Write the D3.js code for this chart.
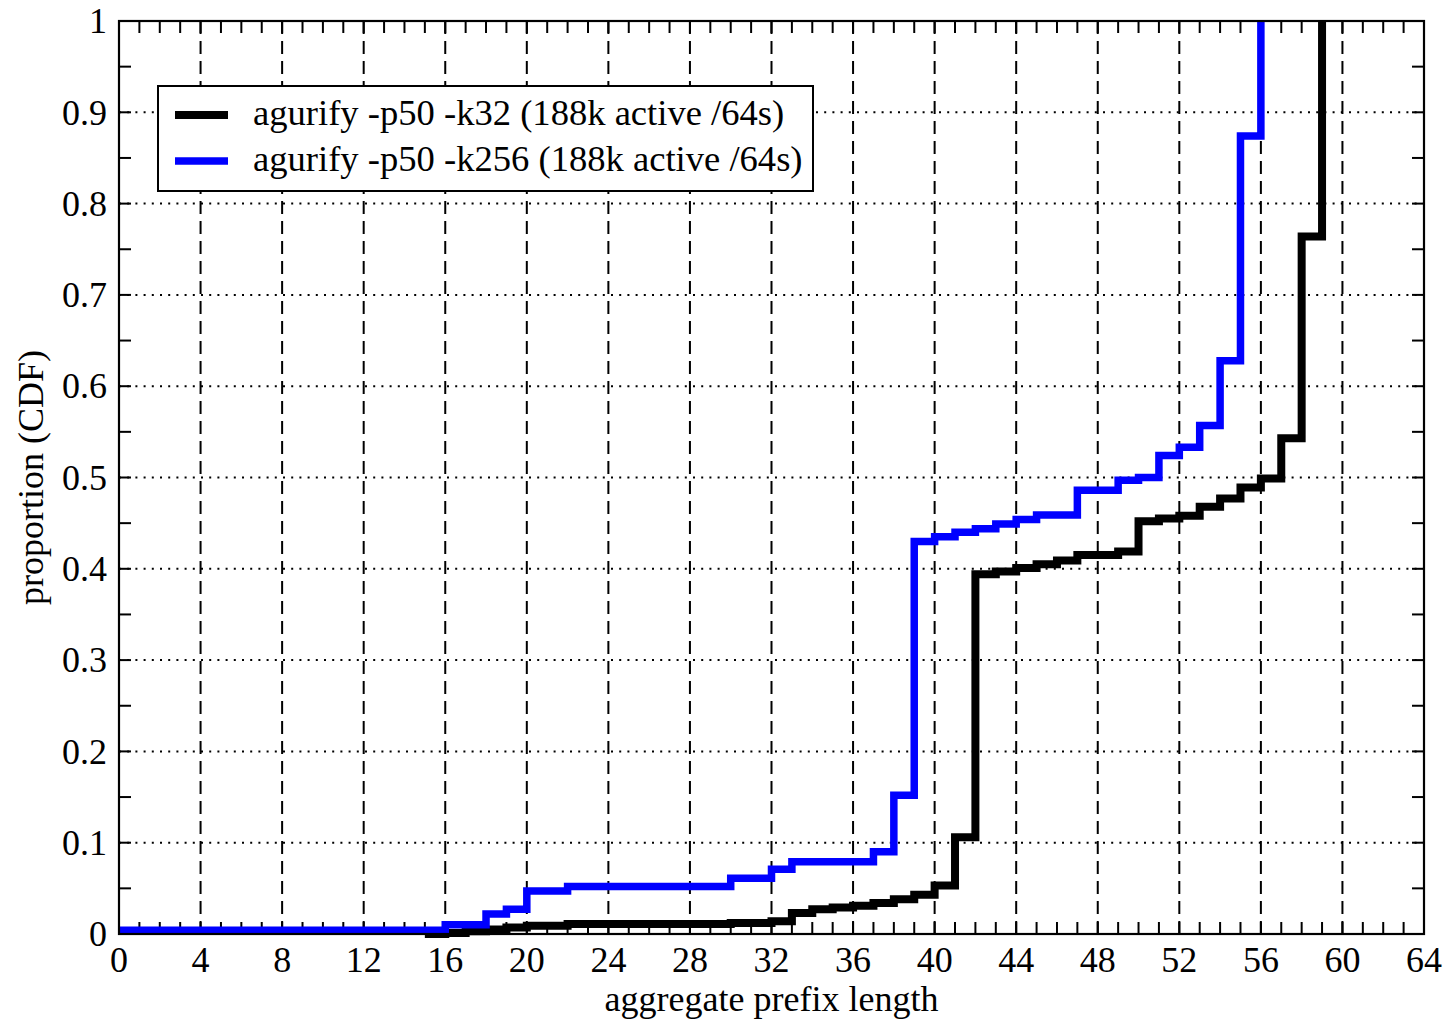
<!DOCTYPE html>
<html><head><meta charset="utf-8">
<script src="https://cdn.jsdelivr.net/npm/d3@7"></script>
<style>body{margin:0;background:#fff}svg{display:block}text{font-family:"Liberation Serif","Times New Roman",serif;fill:#000}</style>
</head><body>
<script>
// Data: CDF steps (x = prefix length, value holds until next x)
const k32X = [15,16,17,18,19,20,22,30,32,33,34,35,36,37,38,39,40,41,42,43,44,45,46,47,49,50,51,52,53,54,55,56,57,58,59];
const k32Y = [0.0,0.001,0.003,0.005,0.007,0.009,0.011,0.012,0.014,0.023,0.027,0.029,0.031,0.034,0.038,0.043,0.053,0.106,0.394,0.397,0.401,0.405,0.409,0.415,0.419,0.452,0.455,0.458,0.468,0.477,0.489,0.499,0.543,0.764,1.0];
const k256X = [0,16,18,19,20,22,30,32,33,37,38,39,40,41,42,43,44,45,47,49,50,51,52,53,54,55,56];
const k256Y = [0.004,0.010,0.022,0.027,0.047,0.052,0.061,0.071,0.079,0.090,0.152,0.430,0.435,0.440,0.444,0.449,0.454,0.459,0.486,0.497,0.500,0.524,0.533,0.557,0.628,0.874,1.0];
const seriesNames = ["agurify -p50 -k32 (188k active /64s)","agurify -p50 -k256 (188k active /64s)"];
const seriesColors = ["#000000","#0000ff"];
const xTicks = d3.range(0,65,4);
const yTicks = [0,0.1,0.2,0.3,0.4,0.5,0.6,0.7,0.8,0.9,1];
const xLabel = "aggregate prefix length";
const yLabel = "proportion (CDF)";

const W=1445,H=1022, L=119,R=1424,T=21,B=934;
const svg=d3.select("body").append("svg").attr("width",W).attr("height",H);
const x=d3.scaleLinear().domain([0,64]).range([L,R]);
const y=d3.scaleLinear().domain([0,1]).range([B,T]);
const fs=36;

// grid
svg.append("g").selectAll("line").data(xTicks.filter(d=>d>0&&d<64)).join("line")
  .attr("x1",d=>x(d)).attr("x2",d=>x(d)).attr("y1",B).attr("y2",T)
  .attr("stroke","#000").attr("stroke-width",2).attr("stroke-dasharray","13,7");
svg.append("g").selectAll("line").data(yTicks.filter(d=>d>0&&d<1)).join("line")
  .attr("x1",L).attr("x2",R).attr("y1",d=>y(d)).attr("y2",d=>y(d))
  .attr("stroke","#000").attr("stroke-width",2).attr("stroke-dasharray","2,6.2");

// minor ticks
const tl=12;
const xMinor=d3.range(0,65,1), yMinor=d3.range(0,1.0001,0.05);
const tg=svg.append("g").attr("stroke","#000").attr("stroke-width",2);
tg.selectAll(".xb").data(xMinor).join("line").attr("x1",d=>x(d)).attr("x2",d=>x(d)).attr("y1",B).attr("y2",B-tl);
tg.selectAll(".xt").data(xMinor).join("line").attr("x1",d=>x(d)).attr("x2",d=>x(d)).attr("y1",T).attr("y2",T+tl);
tg.selectAll(".yl").data(yMinor).join("line").attr("y1",d=>y(d)).attr("y2",d=>y(d)).attr("x1",L).attr("x2",L+tl);
tg.selectAll(".yr").data(yMinor).join("line").attr("y1",d=>y(d)).attr("y2",d=>y(d)).attr("x1",R).attr("x2",R-tl);

// lines
const line=d3.line().x(d=>x(d[0])).y(d=>y(d[1])).curve(d3.curveStepAfter);
const series=[d3.zip(k32X,k32Y), d3.zip(k256X,k256Y)];
series.forEach((s,i)=>{
  svg.append("path").attr("d",line(s)).attr("fill","none").attr("stroke",seriesColors[i])
    .attr("stroke-width",i===0?8:7.5).attr("stroke-linejoin","miter");
});

// frame
svg.append("rect").attr("x",L).attr("y",T).attr("width",R-L).attr("height",B-T)
  .attr("fill","none").attr("stroke","#000").attr("stroke-width",2.2);

// tick labels
svg.append("g").selectAll("text").data(xTicks).join("text")
  .attr("x",d=>x(d)).attr("y",B+38).attr("text-anchor","middle").attr("font-size",fs).text(d=>d);
svg.append("g").selectAll("text").data(yTicks).join("text")
  .attr("x",L-12).attr("y",d=>y(d)).attr("dy","0.34em").attr("text-anchor","end").attr("font-size",fs).text(d=>d===0?"0":d===1?"1":d3.format(".1f")(d));

// axis labels
svg.append("text").attr("x",(L+R)/2).attr("y",1011).attr("text-anchor","middle").attr("font-size",fs).text(xLabel);
svg.append("text").attr("transform",`translate(43,${(T+B)/2}) rotate(-90)`).attr("text-anchor","middle").attr("font-size",fs).text(yLabel);

// legend
const lg=svg.append("g");
lg.append("rect").attr("x",158).attr("y",86).attr("width",655).attr("height",105).attr("fill","#fff").attr("stroke","#000").attr("stroke-width",2);
seriesNames.forEach((n,i)=>{
  const yy=115+i*46;
  lg.append("line").attr("x1",175).attr("x2",228).attr("y1",yy).attr("y2",yy).attr("stroke",seriesColors[i]).attr("stroke-width",i===0?8:7.5);
  lg.append("text").attr("x",253).attr("y",yy).attr("dy","0.27em").attr("font-size",36.6).text(n);
});
</script>
</body></html>
